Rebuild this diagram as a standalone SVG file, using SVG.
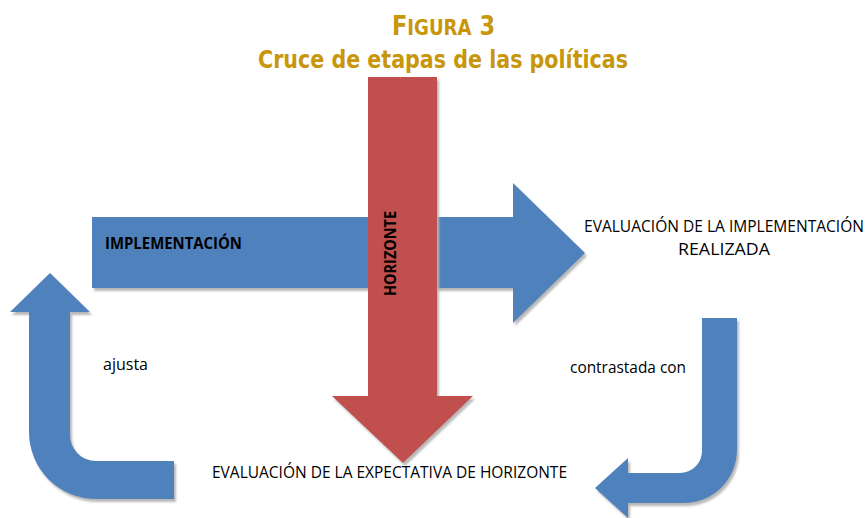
<svg xmlns="http://www.w3.org/2000/svg" width="867" height="518" viewBox="0 0 867 518">
<defs>
<filter id="sh" x="-10%" y="-10%" width="130%" height="130%">
<feGaussianBlur in="SourceAlpha" stdDeviation="0.8" result="b"/>
<feOffset in="b" dx="1.5" dy="2.5" result="o"/>
<feFlood flood-color="#b8b8b8"/>
<feComposite in2="o" operator="in" result="s"/>
<feMerge><feMergeNode in="s"/><feMergeNode in="SourceGraphic"/></feMerge>
</filter>
<style>
.blue{fill:#4f81bd;filter:url(#sh)}
.red{fill:#c0504d;filter:url(#sh)}
.t{font-family:"Open Sans","Liberation Sans",sans-serif;font-size:15.5px;fill:#000}
.b{font-weight:bold}
.title{font-family:"DejaVu Sans Condensed","DejaVu Sans",sans-serif;font-stretch:condensed;font-weight:bold;fill:#c8960b}
</style>
</defs>
<g id="title">
<text class="title" x="392" y="35" textLength="103" lengthAdjust="spacingAndGlyphs"><tspan font-size="26">F</tspan><tspan font-size="21">IGURA</tspan><tspan font-size="26"> 3</tspan></text>
<text class="title" x="258" y="68" font-size="25" textLength="370" lengthAdjust="spacingAndGlyphs">Cruce de etapas de las políticas</text>
</g>
<g id="connectors">
<path class="blue" d="M50,273 L90,312 L70,312 L70,435 A26,26 0 0 0 96,461 L174,461 L174,499 L96,499 A67,67 0 0 1 29,432 L29,312 L10,312 Z"/>
<path class="blue" d="M702,318 L737,318 L737,450 A53,53 0 0 1 684,503 L628,503 L628,518 L595,488 L628,458 L628,473 L680,473 A22,22 0 0 0 702,451 Z"/>
</g>
<g id="implementacion">
<path class="blue" d="M92,217 L513,217 L513,183 L585,253 L513,323 L513,288 L92,288 Z"/>
<text class="t b" x="105" y="249" textLength="137" lengthAdjust="spacingAndGlyphs">IMPLEMENTACIÓN</text>
</g>
<g id="horizonte">
<path class="red" d="M368,77 L437,77 L437,396 L473,396 L403,463 L332,396 L368,396 Z"/>
<text class="t b" font-size="17" transform="translate(396,296) rotate(-90)" x="0" y="0" textLength="85" lengthAdjust="spacingAndGlyphs">HORIZONTE</text>
</g>
<g id="evaluacion-implementacion">
<text class="t" x="584" y="232" textLength="280" lengthAdjust="spacingAndGlyphs">EVALUACIÓN DE LA IMPLEMENTACIÓN</text>
<text class="t" x="678" y="255" textLength="92" lengthAdjust="spacingAndGlyphs">REALIZADA</text>
</g>
<g id="evaluacion-expectativa">
<text class="t" x="212" y="478" textLength="355" lengthAdjust="spacingAndGlyphs">EVALUACIÓN DE LA EXPECTATIVA DE HORIZONTE</text>
</g>
<g id="labels">
<text class="t" x="103" y="370" textLength="45" lengthAdjust="spacingAndGlyphs">ajusta</text>
<text class="t" x="570" y="373" textLength="116" lengthAdjust="spacingAndGlyphs">contrastada con</text>
</g>
</svg>
